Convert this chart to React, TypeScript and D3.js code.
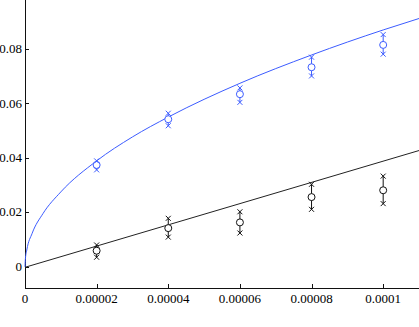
import * as d3 from 'd3'

const X_POS = [0.00002, 0.00004, 0.00006, 0.00008, 0.0001]

const BLUE_MEAN = [0.0374, 0.0542, 0.0634, 0.0733, 0.0815]
const BLUE_HIGH = [0.0389, 0.0564, 0.0657, 0.0770, 0.0853]
const BLUE_LOW = [0.0356, 0.0518, 0.0604, 0.0701, 0.0781]

const BLACK_MEAN = [0.0059, 0.0142, 0.0163, 0.0256, 0.0281]
const BLACK_HIGH = [0.0080, 0.0178, 0.0202, 0.0303, 0.0333]
const BLACK_LOW = [0.0035, 0.0109, 0.0124, 0.0211, 0.0232]

// Fitted curves
const BLUE_FIT_X = [0, 0.0000001, 0.0000005, 0.000002, 0.000005, 0.00001, 0.00002, 0.00003, 0.00004, 0.00006, 0.00008, 0.0001, 0.00011]
const BLUE_FIT_Y = [0, 0.00275, 0.00615, 0.0123, 0.0195, 0.0275, 0.0389, 0.0477, 0.055, 0.0674, 0.0778, 0.087, 0.0912]
const BLACK_FIT_X = [0, 0.00011]
const BLACK_FIT_Y = [-0.0002, 0.0427]

const X_TICKS = [0, 0.00002, 0.00004, 0.00006, 0.00008, 0.0001]
const X_TICK_LABELS = ['0', '0.00002', '0.00004', '0.00006', '0.00008', '0.0001']
const Y_TICKS = [0, 0.02, 0.04, 0.06, 0.08]
const Y_TICK_LABELS = ['0', '0.02', '0.04', '0.06', '0.08']

const W = 419
const H = 327
const LEFT = 25
const BOTTOM = 288
const BLUE = '#3c5cff'
const BLACK = '#111'
const FONT = '"Liberation Serif", serif'

const x = d3.scaleLinear().domain([0, 0.00011]).range([LEFT, W])
const y = d3.scaleLinear().domain([-0.0078, 0.098]).range([BOTTOM, 0])

const line = d3.line<[number, number]>()
  .x((d) => x(d[0])).y((d) => y(d[1]))
  .curve(d3.curveMonotoneX)

function Series({ mean, high, low, color }: { mean: number[]; high: number[]; low: number[]; color: string }) {
  const s = 2.5
  const cross = (cx: number, cy: number) =>
    `M${cx - s},${cy - s}L${cx + s},${cy + s}M${cx - s},${cy + s}L${cx + s},${cy - s}`
  return (
    <g stroke={color} strokeWidth={1}>
      {X_POS.map((xv, i) => {
        const cx = x(xv)
        return (
          <g key={i}>
            <line x1={cx} x2={cx} y1={y(high[i])} y2={y(low[i])} />
            <circle cx={cx} cy={y(mean[i])} r={3.5} fill="white" />
            <path d={cross(cx, y(high[i]))} fill="none" />
            <path d={cross(cx, y(low[i]))} fill="none" />
          </g>
        )
      })}
    </g>
  )
}

export default function App() {
  const blackFit = line(BLACK_FIT_X.map((v, i) => [v, BLACK_FIT_Y[i]] as [number, number])) ?? ''
  const blueFit = line(BLUE_FIT_X.map((v, i) => [v, BLUE_FIT_Y[i]] as [number, number])) ?? ''

  return (
    <svg
      width={W}
      height={H}
      style={{ position: 'absolute', left: 0, top: 0, display: 'block', background: 'white' }}
    >
      {/* axes */}
      <g stroke={BLACK} strokeWidth={1} fill="none">
        <line x1={LEFT + 0.5} x2={LEFT + 0.5} y1={0} y2={BOTTOM + 0.5} />
        <line x1={LEFT} x2={W} y1={BOTTOM + 0.5} y2={BOTTOM + 0.5} />
        {X_TICKS.map((t) => (
          <line key={t} x1={Math.round(x(t)) + 0.5} x2={Math.round(x(t)) + 0.5} y1={BOTTOM} y2={BOTTOM - 4} />
        ))}
        {Y_TICKS.map((t) => (
          <line key={t} x1={LEFT} x2={LEFT + 4} y1={Math.round(y(t)) + 0.5} y2={Math.round(y(t)) + 0.5} />
        ))}
      </g>
      <g fontFamily={FONT} fontSize={13} fill="#000">
        {X_TICKS.map((t, i) => (
          <text key={t} x={x(t)} y={BOTTOM + 15} textAnchor="middle">{X_TICK_LABELS[i]}</text>
        ))}
        {Y_TICKS.map((t, i) => (
          <text key={t} x={LEFT - 3} y={y(t)} dy="0.32em" textAnchor="end">{Y_TICK_LABELS[i]}</text>
        ))}
      </g>

      {/* fit curves */}
      <path d={blackFit} fill="none" stroke="#222" strokeWidth={1} />
      <path d={blueFit} fill="none" stroke={BLUE} strokeWidth={1} />

      <Series mean={BLACK_MEAN} high={BLACK_HIGH} low={BLACK_LOW} color={BLACK} />
      <Series mean={BLUE_MEAN} high={BLUE_HIGH} low={BLUE_LOW} color={BLUE} />
    </svg>
  )
}
